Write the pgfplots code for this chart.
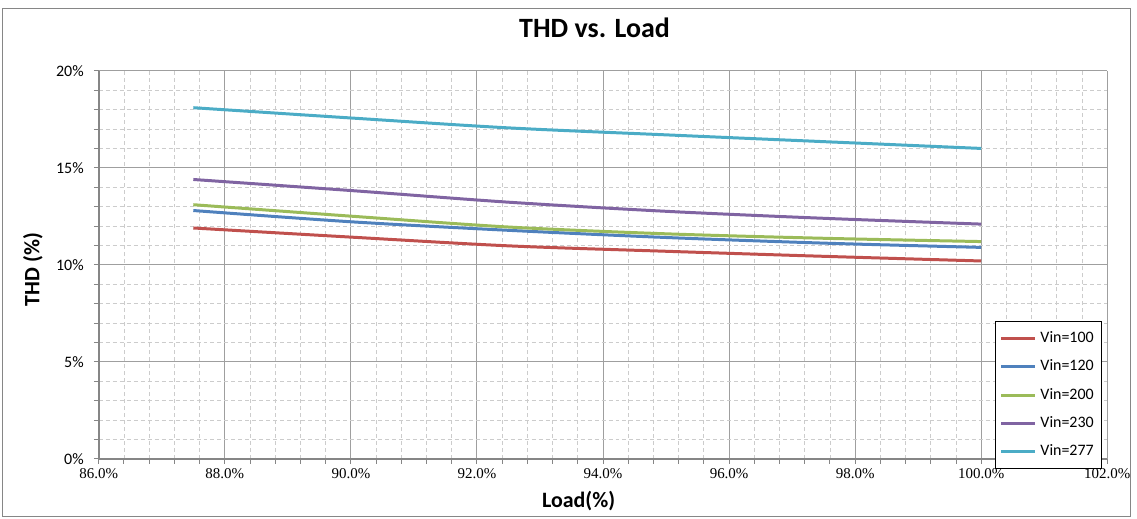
\documentclass[border=0pt]{standalone}
\usepackage{fontspec}
\setmainfont{Carlito}
\newfontfamily\serif{Liberation Serif}
\usepackage{pgfplots}
\pgfplotsset{compat=1.18}

\definecolor{c100}{HTML}{C0504D}
\definecolor{c120}{HTML}{4F81BD}
\definecolor{c200}{HTML}{9BBB59}
\definecolor{c230}{HTML}{8064A2}
\definecolor{c277}{HTML}{4BACC6}
\definecolor{framegray}{HTML}{868686}

\begin{document}
\begin{tikzpicture}
    %% axis box: 1011 x 389 px at 0.5pt per px
    \begin{axis}[
        name=ax,
        scale only axis,
        width=505.5pt, height=194.5pt,
        xmin=86, xmax=102,
        ymin=0, ymax=20,
        xtick={86,88,...,102},
        xticklabels={86.0\%,88.0\%,90.0\%,92.0\%,94.0\%,96.0\%,98.0\%,100.0\%,102.0\%},
        ytick={0,5,10,15,20},
        yticklabels={0\%,5\%,10\%,15\%,20\%},
        minor x tick num=4,
        minor y tick num=4,
        grid=both,
        major grid style={draw=gray!75, line width=0.5pt},
        minor grid style={draw=gray!40, line width=0.4pt, dash pattern=on 2pt off 1.5pt},
        axis x line*=bottom,
        axis y line*=left,
        axis line style={draw=framegray, line width=1pt},
        tick align=outside,
        major tick length=2.5pt,
        minor tick length=2.5pt,
        tick style={draw=framegray, line width=0.5pt},
        xticklabel style={font=\serif\fontsize{7.5}{9}\selectfont, yshift=1pt},
        yticklabel style={font=\fontsize{8}{9.6}\selectfont, xshift=-1.5pt},
        title={THD vs. Load},
        title style={font=\bfseries\fontsize{14}{16}\selectfont, at={(axis description cs:0.4916,1.0797)}, anchor=center},
        xlabel={Load(\%)},
        xlabel style={font=\bfseries\fontsize{11}{13}\selectfont, at={(axis description cs:0.4758,-0.108)}, anchor=center},
        ylabel={THD (\%)},
        ylabel style={font=\bfseries\fontsize{11}{13}\selectfont, at={(axis description cs:-0.0653,0.488)}, anchor=center},
        legend style={
            at={(axis description cs:0.995,0.355)}, anchor=north east,
            draw=black, line width=0.5pt, fill=white,
            font=\fontsize{8}{9.6}\selectfont,
            row sep=3.2pt, inner xsep=2pt, inner ysep=3pt,
            /tikz/every even column/.append style={column sep=0pt},
        },
        legend cell align=left,
        legend image code/.code={
            \draw[#1, line width=1.5pt] (0pt,0pt) -- (17pt,0pt);
        },
        every axis plot/.append style={line width=1.5pt, smooth, no markers},
        clip=false,
    ]
        %% Vin=100
        \addplot[c100] coordinates {
            (87.5,11.90) (90,11.43) (92.5,10.98) (95,10.70) (97.5,10.44) (100,10.20)
        };
        \addlegendentry{Vin=100}
        %% Vin=120
        \addplot[c120] coordinates {
            (87.5,12.80) (90,12.22) (92.5,11.78) (95,11.41) (97.5,11.12) (100,10.90)
        };
        \addlegendentry{Vin=120}
        %% Vin=200
        \addplot[c200] coordinates {
            (87.5,13.10) (90,12.51) (92.5,11.95) (95,11.60) (97.5,11.37) (100,11.20)
        };
        \addlegendentry{Vin=200}
        %% Vin=230
        \addplot[c230] coordinates {
            (87.5,14.40) (90,13.83) (92.5,13.23) (95,12.76) (97.5,12.40) (100,12.10)
        };
        \addlegendentry{Vin=230}
        %% Vin=277
        \addplot[c277] coordinates {
            (87.5,18.10) (90,17.57) (92.5,17.06) (95,16.70) (97.5,16.35) (100,16.00)
        };
        \addlegendentry{Vin=277}
    \end{axis}
    %% chart area frame
    \draw[framegray, line width=0.5pt]
        ([shift={(-48pt,-29pt)}]ax.south west) rectangle ([shift={(517pt,225.5pt)}]ax.south west);
    \path[use as bounding box]
        ([shift={(-49.5pt,-30pt)}]ax.south west) rectangle ([shift={(519pt,230pt)}]ax.south west);
\end{tikzpicture}
\end{document}
